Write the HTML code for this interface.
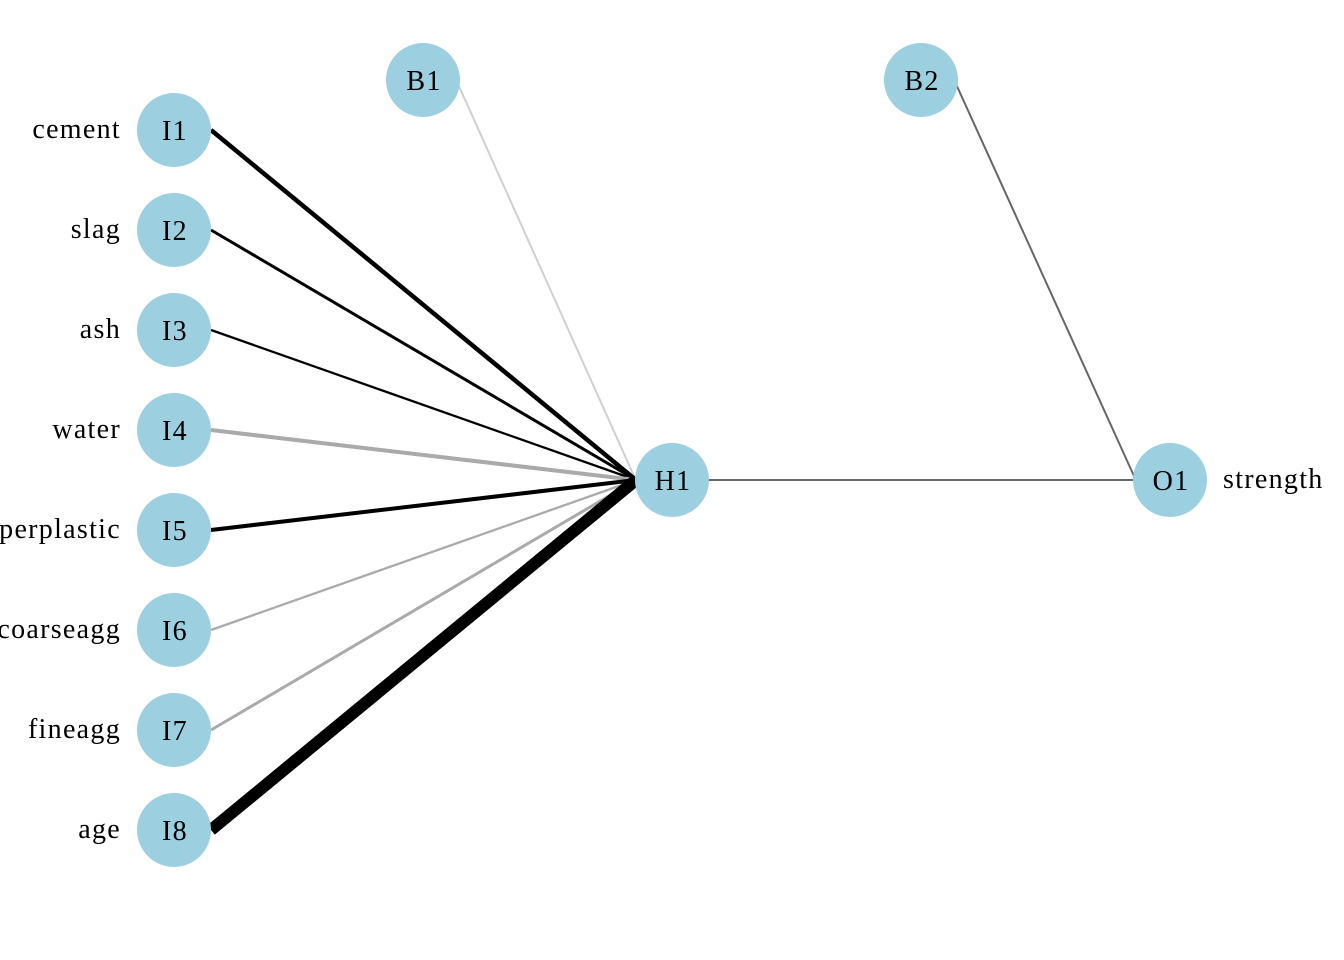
<!DOCTYPE html>
<html><head><meta charset="utf-8"><style>
html,body{margin:0;padding:0;background:#fff;}
svg{display:block;}
text{font-family:"Liberation Serif",serif;font-size:28px;letter-spacing:1.3px;fill:#000;}
</style></head><body>
<svg width="1344" height="960" viewBox="0 0 1344 960">
<g stroke-linecap="butt">
<line x1="458" y1="84" x2="634" y2="476" stroke="#d0d0d0" stroke-width="2"/>
<line x1="956" y1="84" x2="1134" y2="476" stroke="#666" stroke-width="2"/>
<line x1="708" y1="480" x2="1134" y2="480" stroke="#666" stroke-width="2"/>
<line x1="211" y1="130" x2="636" y2="480" stroke="#000" stroke-width="4.5"/>
<line x1="211" y1="230" x2="636" y2="480" stroke="#000" stroke-width="3"/>
<line x1="211" y1="330" x2="636" y2="480" stroke="#000" stroke-width="2.3"/>
<line x1="211" y1="430" x2="636" y2="480" stroke="#aaa" stroke-width="4"/>
<line x1="211" y1="530" x2="636" y2="480" stroke="#000" stroke-width="4"/>
<line x1="211" y1="630" x2="636" y2="480" stroke="#aaa" stroke-width="2.3"/>
<line x1="211" y1="730" x2="636" y2="480" stroke="#aaa" stroke-width="3"/>
<line x1="211" y1="830" x2="636" y2="480" stroke="#000" stroke-width="12"/>
</g>
<g fill="#9ccfe0">
<circle cx="174" cy="130" r="37"/><circle cx="174" cy="230" r="37"/>
<circle cx="174" cy="330" r="37"/><circle cx="174" cy="430" r="37"/>
<circle cx="174" cy="530" r="37"/><circle cx="174" cy="630" r="37"/>
<circle cx="174" cy="730" r="37"/><circle cx="174" cy="830" r="37"/>
<circle cx="423" cy="80" r="37"/><circle cx="921" cy="80" r="37"/>
<circle cx="672" cy="480" r="37"/><circle cx="1170" cy="480" r="37"/>
</g>
<g text-anchor="middle">
<text x="175" y="140">I1</text><text x="175" y="240">I2</text>
<text x="175" y="340">I3</text><text x="175" y="440">I4</text>
<text x="175" y="540">I5</text><text x="175" y="640">I6</text>
<text x="175" y="740">I7</text><text x="175" y="840">I8</text>
<text x="424" y="90">B1</text><text x="922" y="90">B2</text>
<text x="673" y="490">H1</text><text x="1171" y="490">O1</text>
</g>
<g text-anchor="end">
<text x="121" y="138">cement</text><text x="121" y="238">slag</text>
<text x="121" y="338">ash</text><text x="121" y="438">water</text>
<text x="121" y="538">superplastic</text><text x="121" y="638">coarseagg</text>
<text x="121" y="738">fineagg</text><text x="121" y="838">age</text>
</g>
<text x="1223" y="488">strength</text>
</svg>
</body></html>
